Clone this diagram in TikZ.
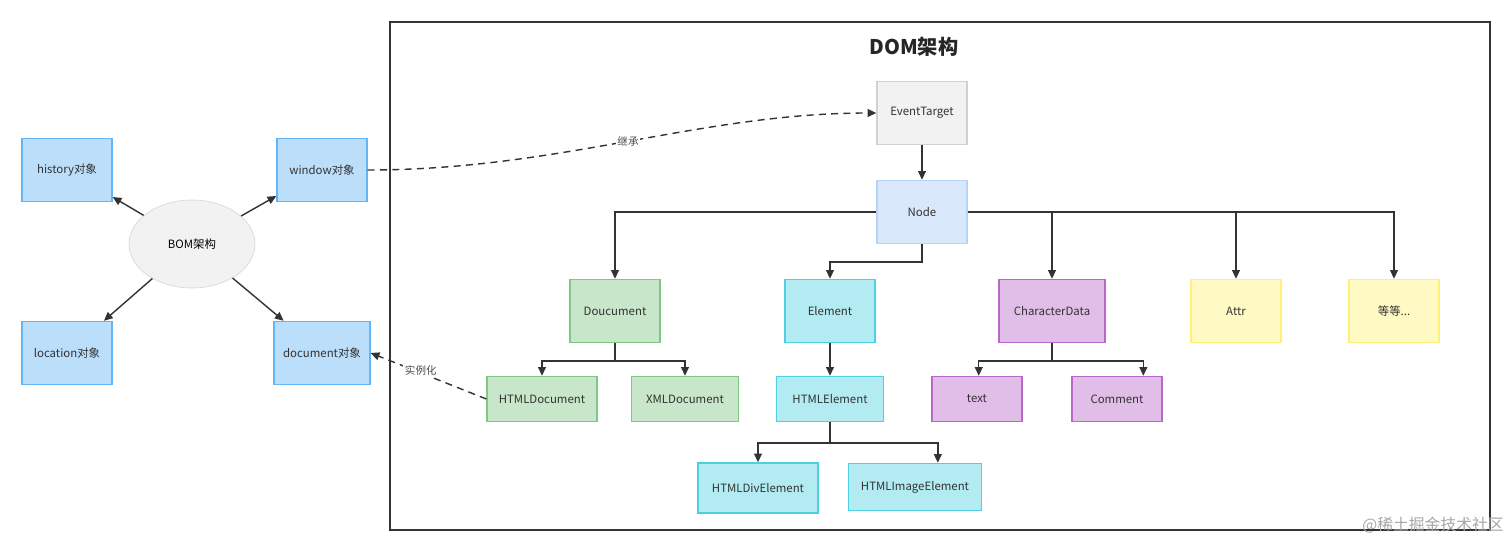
\documentclass[tikz,border=0pt]{standalone}
\usepackage{fontspec}
\setmainfont{Noto Sans CJK SC}
\usepackage{tikz}
\usetikzlibrary{positioning, arrows.meta, shapes.geometric}

\definecolor{bomfill}{HTML}{BBDEFB}
\definecolor{bomline}{HTML}{64B5F6}
\definecolor{docfill}{HTML}{C8E6C9}
\definecolor{docline}{HTML}{81C784}
\definecolor{elfill}{HTML}{B2EBF2}
\definecolor{elline}{HTML}{4DD0E1}
\definecolor{chfill}{HTML}{E1BEE7}
\definecolor{chline}{HTML}{BA68C8}
\definecolor{atfill}{HTML}{FFF9C4}
\definecolor{atline}{HTML}{FFF176}
\definecolor{nodefill}{HTML}{DAE8FC}
\definecolor{nodeline}{HTML}{B8D4F5}

\begin{document}
\begin{tikzpicture}[
    x=0.02cm, y=-0.02cm,
    box/.style={rectangle, draw, line width=0.8pt, minimum width=1.8cm, minimum height=1.26cm, font=\fontsize{6.5}{8}\selectfont, text=black!80},
    small/.style={box, minimum width=2.2cm, minimum height=0.9cm},
    bom/.style={box, fill=bomfill, draw=bomline},
    doc/.style={fill=docfill, draw=docline},
    elem/.style={fill=elfill, draw=elline},
    chdata/.style={fill=chfill, draw=chline},
    attr/.style={box, fill=atfill, draw=atline},
    arrow/.style={-{Triangle[length=5pt, width=4.5pt]}, line width=0.8pt, draw=black!80},
    dashedarrow/.style={arrow, dashed, dash pattern=on 4pt off 3pt},
    lbl/.style={font=\fontsize{6}{7}\selectfont, text=black!70, fill=white, inner sep=1pt}
]
\useasboundingbox (0,0) rectangle (1512,553);

% Frame
\draw[line width=0.9pt, black!80] (390,22) rectangle (1490,530);
\node[font=\fontsize{11.5}{13}\selectfont\bfseries, text=black!85] (title) at (914,47) {DOM架构};

% BOM
\node[ellipse, draw=black!15, fill=black!5, minimum width=2.52cm, minimum height=1.76cm, font=\fontsize{6.5}{8}\selectfont] (bom) at (192,244) {BOM架构};
\node[bom] (history) at (67,170) {history对象};
\node[bom] (window) at (322,170) {window对象};
\node[bom] (location) at (67,353) {location对象};
\node[bom, minimum width=1.92cm] (document) at (322,353) {document对象};

% DOM tree
\node[box, fill=black!5, draw=black!18] (target) at (922,113) {EventTarget};
\node[box, fill=nodefill, draw=nodeline] (domnode) at (922,212) {Node};
\node[box, doc] (doucument) at (615,311) {Doucument};
\node[box, elem] (element) at (830,311) {Element};
\node[box, chdata, minimum width=2.12cm] (chardata) at (1052,311) {CharacterData};
\node[attr] (attrnode) at (1236,311) {Attr};
\node[attr] (etc) at (1394,311) {等等...};
\node[small, doc] (htmldoc) at (542,399) {HTMLDocument};
\node[small, doc, minimum width=2.14cm] (xmldoc) at (685,399) {XMLDocument};
\node[small, elem, minimum width=2.14cm] (htmlel) at (830,399) {HTMLElement};
\node[small, chdata, minimum width=1.8cm] (text) at (977,399) {text};
\node[small, chdata, minimum width=1.8cm] (comment) at (1117,399) {Comment};
\node[small, elem, minimum width=2.4cm, minimum height=1cm] (divel) at (758,488) {HTMLDivElement};
\node[small, elem, minimum width=2.66cm, minimum height=0.94cm] (imgel) at (915,487) {HTMLImageElement};

% BOM arrows
\draw[arrow] (bom) -- (history);
\draw[arrow] (bom) -- (window);
\draw[arrow] (bom) -- (location);
\draw[arrow] (bom) -- (document);

% Inheritance
\draw[arrow] (target) -- (domnode);
\draw[arrow] (domnode.west) -| (doucument.north);
\draw[arrow] (domnode.south) -- ++(0,18) -| (element.north);
\draw[arrow] (domnode.east) -| (chardata.north);
\draw[arrow] (domnode.east) -| (attrnode.north);
\draw[arrow] (domnode.east) -| (etc.north);
\draw[arrow] (doucument.south) -- ++(0,18) -| (htmldoc.north);
\draw[arrow] (doucument.south) -- ++(0,18) -| (xmldoc.north);
\draw[arrow] (element) -- (htmlel);
\draw[arrow] (htmlel.south) -- ++(0,21) -| (divel.north);
\draw[arrow] (htmlel.south) -- ++(0,21) -| ([xshift=13]imgel.north);
\draw[arrow] (chardata.south) -- ++(0,18) -| ([xshift=1]text.north);
\draw[arrow] (chardata.south) -- ++(0,18) -| ([xshift=15]comment.north);

% Dashed links
\draw[dashedarrow] (window.east) .. controls (560,170) and (700,113) .. node[lbl, pos=0.5] {继承} (target.west);
\draw[dashedarrow] (htmldoc.west) -- node[lbl, pos=0.5, above left=-1pt and -6pt] {实例化} (document.east);

% Watermark
\node[font=\fontsize{9}{10}\selectfont, text=black!35, anchor=east] (mark) at (1510,525) {@稀土掘金技术社区};
\end{tikzpicture}
\end{document}
